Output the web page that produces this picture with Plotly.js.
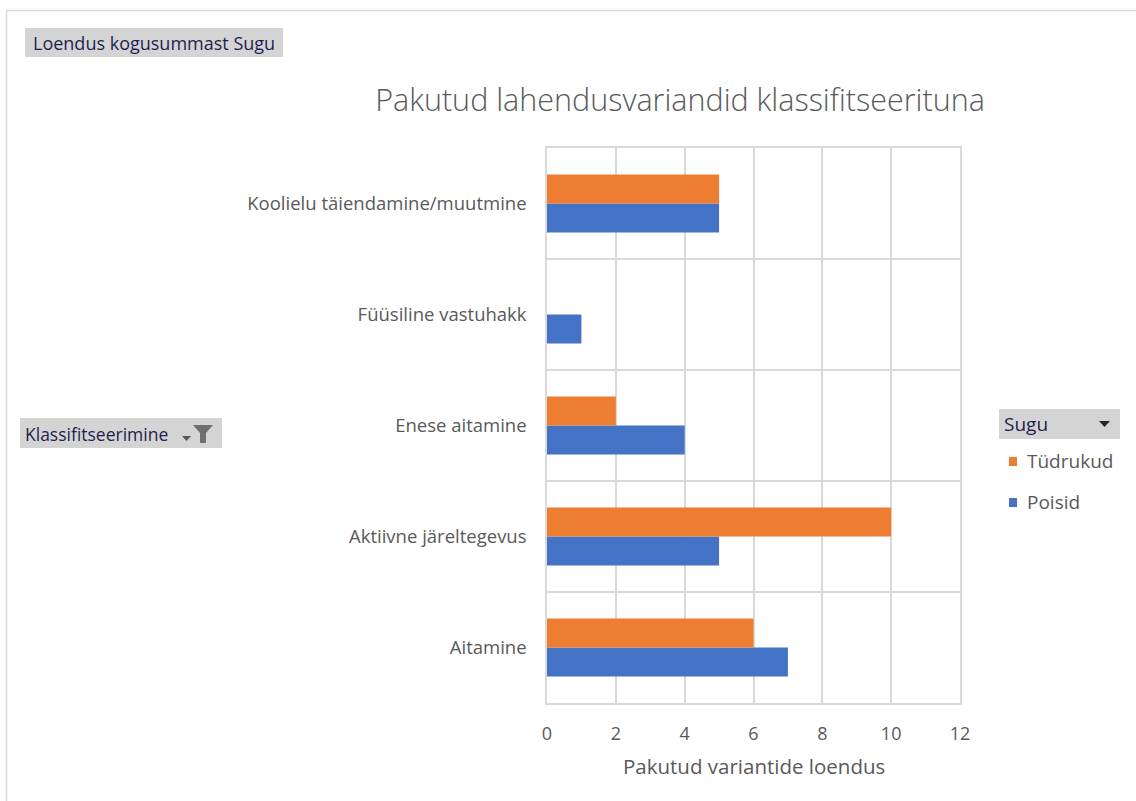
<!DOCTYPE html>
<html>
<head>
<meta charset="utf-8">
<script src="https://cdn.plot.ly/plotly-3.0.1.min.js"></script>
<style>
html,body{margin:0;padding:0;background:#fff;}
#chart{width:1136px;height:801px;}
</style>
</head>
<body>
<div id="chart"></div>
<script>
// ---- data ----
const categories = ["Aitamine", "Aktiivne järeltegevus", "Enese aitamine", "Füüsiline vastuhakk", "Koolielu täiendamine/muutmine"];
const poisid = [7, 5, 4, 1, 5];
const tydrukud = [6, 10, 2, 0, 5];
const seriesNames = ["Poisid", "Tüdrukud"];
const xTicks = [0, 2, 4, 6, 8, 10, 12];

// ---- layout helpers (pixel -> paper) ----
const W = 1136, H = 801;
const M = {l: 547, r: 176, t: 148, b: 98};
const PW = W - M.l - M.r, PH = H - M.t - M.b;
const px = x => (x - M.l) / PW;
const py = y => (H - M.b - y) / PH;

const FONT = "'Open Sans', 'Noto Sans', sans-serif";
const GRAY = "#595959";
const GRID = "#d9d9d9";
const ORANGE = "#ED7D31", BLUE = "#4472C4";

const traces = [
  {type: "bar", orientation: "h", name: seriesNames[0], y: categories, x: poisid,
   marker: {color: BLUE}, hoverinfo: "x+y+name"},
  {type: "bar", orientation: "h", name: seriesNames[1], y: categories, x: tydrukud,
   marker: {color: ORANGE}, hoverinfo: "x+y+name"}
];

function rect(x0, y0, x1, y1, fill, line) {
  return {type: "rect", xref: "paper", yref: "paper",
          x0: px(x0), x1: px(x1), y0: py(y1), y1: py(y0),
          fillcolor: fill, line: line || {width: 0}, layer: "above"};
}
function path(pts, fill) {
  const d = "M" + pts.map(p => px(p[0]) + "," + py(p[1])).join(" L") + " Z";
  return {type: "path", xref: "paper", yref: "paper", path: d, fillcolor: fill, line: {width: 0}, layer: "above"};
}
function label(x, y, text, opts) {
  return Object.assign({xref: "paper", yref: "paper", x: px(x), y: py(y), text: text,
    showarrow: false, xanchor: "left", yanchor: "middle",
    font: {family: FONT, size: 18, color: GRAY}}, opts || {});
}

const shapes = [
  // outer frame (left and top)
  {type: "line", xref: "paper", yref: "paper", x0: px(6.5), x1: px(6.5), y0: py(10), y1: py(801), line: {color: GRID, width: 1.5}, layer: "below"},
  {type: "line", xref: "paper", yref: "paper", x0: px(6), x1: px(1136), y0: py(10.5), y1: py(10.5), line: {color: GRID, width: 1.5}, layer: "below"},
  // field buttons
  rect(25, 28, 283, 57, "#d4d4d4"),
  rect(20, 418, 222, 448, "#d4d4d4"),
  rect(999, 409, 1120, 439, "#d4d4d4"),
  // dropdown arrow on Klassifitseerimine + funnel icon
  path([[182, 436], [191, 436], [186.5, 441]], "#595959"),
  path([[193, 425], [213, 425], [206, 433], [206, 443], [200, 443], [200, 433]], "#707070"),
  // Sugu dropdown arrow
  path([[1099, 421], [1110, 421], [1104.5, 427]], "#262626"),
  // legend swatches
  rect(1009, 457, 1017, 466, ORANGE),
  rect(1009, 498, 1017, 507, BLUE)
];

const annotations = [
  label(31, 43, "Loendus kogusummast Sugu", {font: {family: FONT, size: 18, color: "#1f1f4f"}}),
  label(23, 434, "Klassifitseerimine", {font: {family: FONT, size: 17.5, color: "#1f1f4f"}}),
  label(1002, 424, "Sugu", {font: {family: FONT, size: 19, color: "#1f1f4f"}}),
  label(1025, 461, "Tüdrukud", {font: {family: FONT, size: 19, color: GRAY}}),
  label(1025, 502, "Poisid", {font: {family: FONT, size: 19, color: GRAY}}),
  label(753.5, 766, "Pakutud variantide loendus", {xanchor: "center", font: {family: FONT, size: 20.5, color: GRAY}})
];

const layout = {
  width: W, height: H,
  margin: M,
  paper_bgcolor: "#fff", plot_bgcolor: "#fff",
  font: {family: FONT, color: GRAY},
  title: {text: "Pakutud lahendusvariandid klassifitseerituna",
          x: px(680), xref: "paper", xanchor: "center",
          y: 1 - 100 / H, yref: "container", yanchor: "middle",
          font: {family: FONT, size: 30.5, color: GRAY, weight: 300}},
  showlegend: false,
  barmode: "group",
  bargap: 0.477,
  bargroupgap: 0,
  xaxis: {range: [0, 12], tickvals: xTicks, ticktext: xTicks.map(String),
          showgrid: true, gridcolor: GRID, gridwidth: 1.5,
          zeroline: false, showline: true, linecolor: GRID, linewidth: 1.5, mirror: true,
          ticks: "", ticklabelstandoff: 14,
          tickfont: {family: FONT, size: 18, color: GRAY}, fixedrange: true},
  yaxis: {type: "category", categoryorder: "array", categoryarray: categories,
          range: [-0.5, 4.5], tickson: "boundaries",
          showgrid: true, gridcolor: GRID, gridwidth: 1.5,
          showline: true, linecolor: GRID, linewidth: 1.5, mirror: true,
          ticks: "", ticklabelstandoff: 15,
          tickfont: {family: FONT, size: 18.5, color: GRAY}, fixedrange: true},
  shapes: shapes,
  annotations: annotations
};

Plotly.newPlot("chart", traces, layout, {displayModeBar: false});
</script>
</body>
</html>
